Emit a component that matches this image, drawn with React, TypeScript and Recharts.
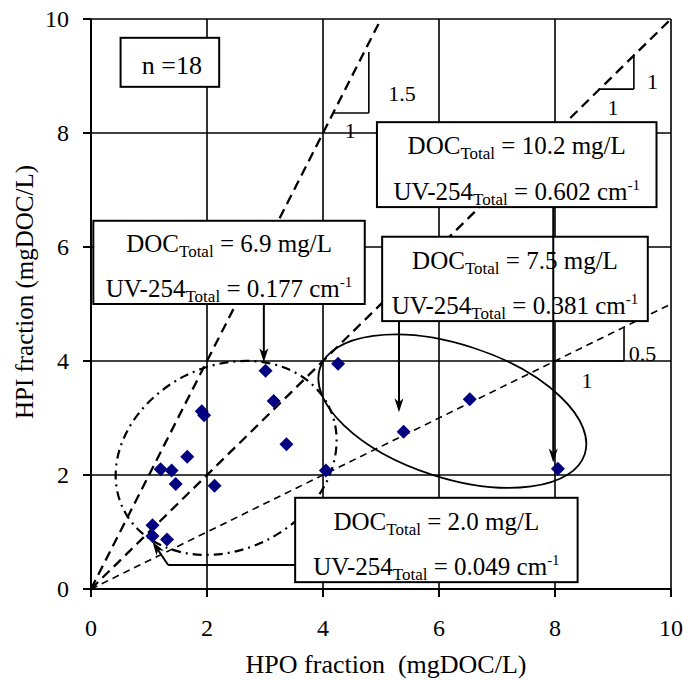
import React from 'react';
import {
  ScatterChart,
  Scatter,
  XAxis,
  YAxis,
  CartesianGrid,
  ReferenceLine,
  ReferenceArea,
  ReferenceDot,
  Customized,
} from 'recharts';

// HPO / HPI fractions of each sample, mgDOC/L
const hpoFraction = [1.06, 1.06, 1.31, 1.2, 1.39, 1.46, 1.66, 1.91, 1.95, 2.13, 3.01, 3.15, 3.37, 4.05, 4.26, 5.39, 6.53, 8.05];
const hpiFraction = [1.12, 0.93, 0.87, 2.1, 2.08, 1.84, 2.32, 3.12, 3.05, 1.81, 3.83, 3.3, 2.54, 2.08, 3.95, 2.76, 3.33, 2.11];
const axisTicks = [0, 2, 4, 6, 8, 10];

// HPI:HPO guide lines through the origin
const guideSlopes = [2, 1, 0.5];

// totals quoted for the highlighted samples
const docTotals = ['10.2', '6.9', '7.5', '2.0'];
const uvTotals = ['0.602', '0.177', '0.381', '0.049'];

const FONT = '"Liberation Serif", "Times New Roman", serif';
const MARKER = '#000080';

const points = hpoFraction.map((x, i) => ({ x, y: hpiFraction[i] }));

// where each total box sits, in axis units
const boxPlace = [
  { x1: 4.93, x2: 9.75, y1: 6.7, y2: 8.19 },
  { x1: 0.04, x2: 4.72, y1: 5.0, y2: 6.46 },
  { x1: 5.02, x2: 9.6, y1: 4.7, y2: 6.18 },
  { x1: 3.52, x2: 8.39, y1: 0.12, y2: 1.6 },
];

// arrows from the boxes to their samples
const arrows = [
  { from: { x: 7.97, y: 6.7 }, to: { x: 7.97, y: 2.22 }, head: true },
  { from: { x: 2.98, y: 5.0 }, to: { x: 2.98, y: 3.98 }, head: true },
  { from: { x: 5.31, y: 4.7 }, to: { x: 5.31, y: 3.1 }, head: true },
  { from: { x: 3.52, y: 0.42 }, to: { x: 1.33, y: 0.42 }, head: false },
  { from: { x: 1.33, y: 0.42 }, to: { x: 1.06, y: 0.83 }, head: true },
];

// slope triangles next to the guide lines
const triangleSides = [
  [{ x: 4.17, y: 8.35 }, { x: 4.79, y: 8.35 }],
  [{ x: 4.79, y: 8.35 }, { x: 4.79, y: 9.42 }],
  [{ x: 8.75, y: 8.77 }, { x: 9.36, y: 8.77 }],
  [{ x: 9.36, y: 8.77 }, { x: 9.36, y: 9.38 }],
  [{ x: 8.0, y: 4.0 }, { x: 9.19, y: 4.0 }],
  [{ x: 9.19, y: 4.0 }, { x: 9.19, y: 4.6 }],
];
const triangleLabels = [
  { x: 5.36, y: 8.7, text: '1.5' },
  { x: 4.47, y: 8.05, text: '1' },
  { x: 9.68, y: 8.91, text: '1' },
  { x: 9.0, y: 8.44, text: '1' },
  { x: 9.51, y: 4.14, text: '0.5' },
  { x: 8.55, y: 3.65, text: '1' },
];

// sample groupings: centre, half axes (axis units) and tilt in degrees
const groups = [
  { cx: 2.33, cy: 2.3, rx: 1.98, ry: 1.61, tilt: -27, dash: '9 5 2 5', width: 2.2 },
  { cx: 6.23, cy: 3.12, rx: 2.4, ry: 1.17, tilt: 18, dash: undefined, width: 1.8 },
];

const Diamond = (p: any) => {
  const { cx, cy } = p;
  const r = 7;
  return (
    <polygon
      points={`${cx},${cy - r} ${cx + r},${cy} ${cx},${cy + r} ${cx - r},${cy}`}
      fill={MARKER}
    />
  );
};

const arrowShape = (head: boolean) => (p: any) => {
  const { x1, y1, x2, y2 } = p;
  if (!head) return <line x1={x1} y1={y1} x2={x2} y2={y2} stroke="#000" strokeWidth={2} />;
  const a = Math.atan2(y2 - y1, x2 - x1);
  const len = 14;
  const half = 4.5;
  const bx = x2 - len * Math.cos(a);
  const by = y2 - len * Math.sin(a);
  const nx = -Math.sin(a) * half;
  const ny = Math.cos(a) * half;
  const mx = x2 - (len - 4) * Math.cos(a);
  const my = y2 - (len - 4) * Math.sin(a);
  return (
    <g>
      <line x1={x1} y1={y1} x2={mx} y2={my} stroke="#000" strokeWidth={2} />
      <polygon
        points={`${x2},${y2} ${bx + nx},${by + ny} ${mx},${my} ${bx - nx},${by - ny}`}
        fill="#000"
      />
    </g>
  );
};

const totalBox = (doc: string, uv: string) => (p: any) => {
  const { x, y, width, height } = p;
  const cx = x + width / 2;
  return (
    <g fontFamily={FONT} fill="#000">
      <rect x={x} y={y} width={width} height={height} fill="#fff" stroke="#000" strokeWidth={2} />
      <text x={cx} y={y + height * 0.38} textAnchor="middle" fontSize={25}>
        DOC
        <tspan fontSize={17} dy={5}>Total</tspan>
        <tspan dy={-5}>{` = ${doc} mg/L`}</tspan>
      </text>
      <text x={cx} y={y + height * 0.915} textAnchor="middle" fontSize={25}>
        UV-254
        <tspan fontSize={17} dy={5}>Total</tspan>
        <tspan dy={-5}>{` = ${uv} cm`}</tspan>
        <tspan fontSize={15} dy={-10}>-1</tspan>
      </text>
    </g>
  );
};

const countBox = (p: any) => {
  const { x, y, width, height } = p;
  return (
    <g>
      <rect x={x} y={y} width={width} height={height} fill="#fff" stroke="#000" strokeWidth={2} />
      <text x={x + width / 2 + 2} y={y + height * 0.74} textAnchor="middle" fontSize={26} fontFamily={FONT}>
        n =18
      </text>
    </g>
  );
};

const ellipseShape = (tilt: number, dash: string | undefined, width: number) => (p: any) => {
  const { x, y, width: w, height: h } = p;
  const cx = x + w / 2;
  const cy = y + h / 2;
  return (
    <ellipse
      cx={cx}
      cy={cy}
      rx={w / 2}
      ry={h / 2}
      transform={`rotate(${tilt} ${cx} ${cy})`}
      fill="none"
      stroke="#000"
      strokeWidth={width}
      strokeDasharray={dash}
    />
  );
};

const labelShape = (text: string) => (p: any) => (
  <text x={p.cx} y={p.cy} textAnchor="middle" dominantBaseline="central" fontSize={22} fontFamily={FONT}>
    {text}
  </text>
);

const XTick = (p: any) => (
  <text x={p.x} y={p.y} dy="0.71em" textAnchor="middle" fontSize={24} fontFamily={FONT} fill="#000">
    {p.payload.value}
  </text>
);

const YTick = (p: any) => (
  <text x={p.x} y={p.y} dy="0.35em" textAnchor="end" fontSize={24} fontFamily={FONT} fill="#000">
    {p.payload.value}
  </text>
);

const AxisTitles = () => (
  <g fontFamily={FONT} fill="#000">
    <text x={386} y={673} textAnchor="middle" fontSize={26}>
      {'HPO fraction\u00a0\u00a0(mgDOC/L)'}
    </text>
    <text transform="translate(33,292) rotate(-90)" textAnchor="middle" fontSize={25}>
      HPI fraction (mgDOC/L)
    </text>
  </g>
);

export default function App() {
  const axisLine = { stroke: '#000', strokeWidth: 2 };
  return (
    <div style={{ position: 'absolute', left: 0, top: 0, background: '#fff' }}>
      <ScatterChart width={683} height={680} margin={{ top: 19, right: 12, bottom: 31, left: 0 }}>
        <CartesianGrid stroke="#000" strokeWidth={1.6} />
        <XAxis
          type="number"
          dataKey="x"
          domain={[0, 10]}
          ticks={axisTicks}
          height={60}
          tick={XTick}
          tickSize={8}
          tickMargin={22}
          axisLine={axisLine}
          tickLine={axisLine}
        />
        <YAxis
          type="number"
          dataKey="y"
          domain={[0, 10]}
          ticks={axisTicks}
          width={91}
          tick={YTick}
          tickSize={8}
          tickMargin={14}
          axisLine={axisLine}
          tickLine={axisLine}
        />
        {guideSlopes.map((s) => (
          <ReferenceLine
            key={`g${s}`}
            segment={[{ x: 0, y: 0 }, { x: Math.min(10, 10 / s), y: Math.min(10, 10 * s) }]}
            stroke="#000"
            strokeWidth={s === 0.5 ? 1.6 : 2.3}
            strokeDasharray={s === 0.5 ? '7 5' : '10 6'}
            ifOverflow="visible"
            zIndex={400}
          />
        ))}
        {groups.map((g, i) => (
          <ReferenceArea
            key={`e${i}`}
            x1={g.cx - g.rx}
            x2={g.cx + g.rx}
            y1={g.cy - g.ry}
            y2={g.cy + g.ry}
            ifOverflow="visible"
            shape={ellipseShape(g.tilt, g.dash, g.width)}
            zIndex={450}
          />
        ))}
        {triangleSides.map((seg, i) => (
          <ReferenceLine key={`t${i}`} segment={seg} stroke="#000" strokeWidth={1.6} ifOverflow="visible" zIndex={460} />
        ))}
        <ReferenceArea x1={0.51} x2={2.21} y1={8.81} y2={9.67} ifOverflow="visible" shape={countBox} zIndex={700} />
        {docTotals.map((doc, i) => (
          <ReferenceArea
            key={`b${i}`}
            {...boxPlace[i]}
            ifOverflow="visible"
            shape={totalBox(doc, uvTotals[i])}
            zIndex={700}
          />
        ))}
        {arrows.map((a, i) => (
          <ReferenceLine
            key={`a${i}`}
            segment={[a.from, a.to]}
            ifOverflow="visible"
            shape={arrowShape(a.head)}
            zIndex={800}
          />
        ))}
        <Scatter data={points} shape={Diamond} isAnimationActive={false} zIndex={900} />
        {triangleLabels.map((l, i) => (
          <ReferenceDot key={`l${i}`} x={l.x} y={l.y} ifOverflow="visible" shape={labelShape(l.text)} zIndex={1000} />
        ))}
        <Customized component={AxisTitles} />
      </ScatterChart>
    </div>
  );
}
